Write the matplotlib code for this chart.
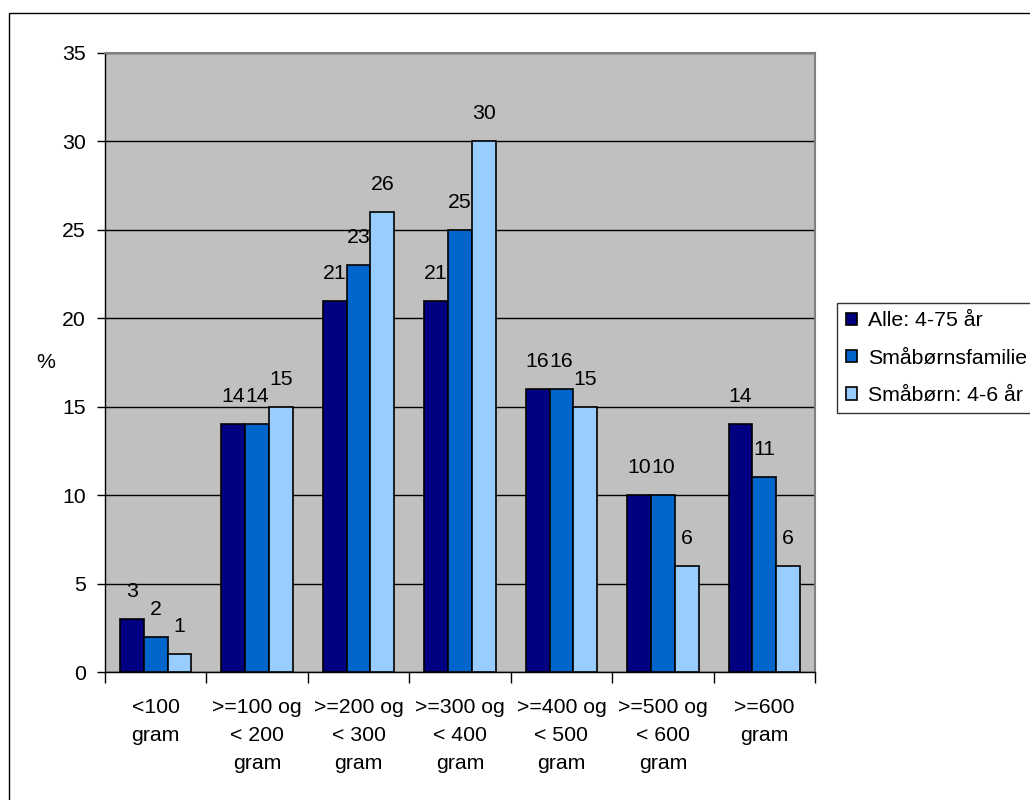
import matplotlib.pyplot as plt
import numpy as np
from matplotlib.patches import Rectangle

plt.rcParams['font.family'] = ['Liberation Sans', 'DejaVu Sans']

categories = ['<100\ngram', '>=100 og\n< 200\ngram', '>=200 og\n< 300\ngram', '>=300 og\n< 400\ngram',
              '>=400 og\n< 500\ngram', '>=500 og\n< 600\ngram', '>=600\ngram']
series_names = ['Alle: 4-75 år', 'Småbørnsfamilie', 'Småbørn: 4-6 år']
alle = [3, 14, 21, 21, 16, 10, 14]
familie = [2, 14, 23, 25, 16, 10, 11]
smaaborn = [1, 15, 26, 30, 15, 6, 6]
colors = ['#000080', '#0066CC', '#99CCFF']


def make_plot():
    fig = plt.figure(figsize=(10.3, 8), dpi=100)
    fig.patches.append(Rectangle((9 / 1030, -0.1), 1.2, 0.1 + (800 - 13) / 800, transform=fig.transFigure,
                                 fill=False, edgecolor='black', linewidth=1))
    ax = fig.add_axes([105 / 1030, 1 - 672 / 800, 710 / 1030, 619 / 800])
    ax.set_facecolor('#C0C0C0')

    x = np.arange(len(categories))
    width = 0.235
    for i, (vals, name) in enumerate(zip([alle, familie, smaaborn], series_names)):
        bars = ax.bar(x + (i - 1) * width, vals, width=width, color=colors[i], edgecolor='black',
                      linewidth=1.2, label=name, zorder=3)
        for b, v in zip(bars, vals):
            ax.annotate(str(v), (b.get_x() + b.get_width() / 2, v), xytext=(0, 13),
                        textcoords='offset points', ha='center', va='bottom', fontsize=15.3)

    ax.set_xlim(-0.5, len(categories) - 0.5)
    ax.set_ylim(0, 35)
    ax.set_yticks(range(0, 36, 5))
    ax.yaxis.grid(True, color='black', linewidth=1, zorder=1)
    ax.set_axisbelow(True)

    ax.set_xticks(x)
    ax.set_xticklabels(categories, fontsize=15.3, linespacing=1.58, va='top')
    ax.set_xticks(np.arange(-0.5, len(categories), 1), minor=True)
    ax.tick_params(axis='x', which='major', length=0, pad=19)
    ax.tick_params(axis='x', which='minor', length=8, direction='out', width=1)
    ax.tick_params(axis='y', length=6, direction='out', width=1, labelsize=15.3, pad=8)

    for s in ['top', 'right']:
        ax.spines[s].set_color('#808080')
        ax.spines[s].set_linewidth(1.5)
    for s in ['left', 'bottom']:
        ax.spines[s].set_color('black')
        ax.spines[s].set_linewidth(1)

    fig.text(46 / 1030, 1 - 362 / 800, '%', fontsize=15.3, ha='center', va='center')

    leg = ax.legend(loc='upper left', bbox_to_anchor=(837 / 1030, 1 - 303 / 800), bbox_transform=fig.transFigure,
                    fontsize=15.3, frameon=True, fancybox=False, edgecolor='black', borderpad=0.4,
                    handlelength=0.55, handleheight=0.55, handletextpad=0.5, labelspacing=0.85,
                    borderaxespad=0)
    leg.get_frame().set_linewidth(1)
    for h in leg.legend_handles:
        h.set_linewidth(1.2)

    fig.savefig('out.png', dpi=100)


if __name__ == '__main__':
    make_plot()
